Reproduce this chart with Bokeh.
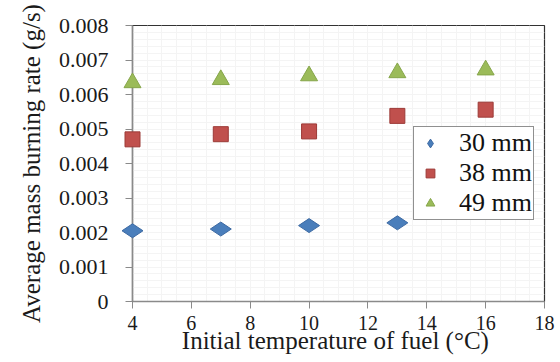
import math
from bokeh.plotting import figure
from bokeh.models import FixedTicker, NumeralTickFormatter, Range1d, Legend, LegendItem
from bokeh.embed import file_html
from bokeh.resources import INLINE

temps_30 = [4, 7, 10, 13]
rate_30 = [0.00205, 0.00210, 0.00220, 0.00228]
temps_38 = [4, 7, 10, 13, 16]
rate_38 = [0.00470, 0.00485, 0.00493, 0.00538, 0.00556]
temps_49 = [4, 7, 10, 13, 16]
rate_49 = [0.00634, 0.00643, 0.00654, 0.00663, 0.00671]
x_ticks = [4, 6, 8, 10, 12, 14, 16, 18]
y_ticks = [0, 0.001, 0.002, 0.003, 0.004, 0.005, 0.006, 0.007, 0.008]

SERIF = "'Liberation Serif', serif"

p = figure(width=560, height=362, output_backend="svg", toolbar_location=None,
           x_range=Range1d(4, 18), y_range=Range1d(0, 0.008),
           min_border_left=132, min_border_right=16, min_border_top=25, min_border_bottom=61)
p.background_fill_color = "white"
p.border_fill_color = "white"
p.outline_line_color = "#333333"
p.outline_line_width = 1.2

for ax in (p.xaxis[0], p.yaxis[0]):
    ax.axis_line_color = "#8a8a8a"
    ax.axis_line_width = 1.5
    ax.major_tick_line_color = "#8a8a8a"
    ax.major_tick_in = 0
    ax.major_tick_out = 7
    ax.minor_tick_line_color = None
    ax.major_label_text_font = SERIF
    ax.major_label_text_color = "#1a1a1a"
    ax.axis_label_text_font = SERIF
    ax.axis_label_text_font_style = "normal"
    ax.axis_label_text_color = "#1a1a1a"

p.xaxis.major_label_text_font_size = "20px"
p.yaxis.major_label_text_font_size = "22px"
p.xaxis.axis_label_text_font_size = "25px"
p.yaxis.axis_label_text_font_size = "25px"

p.xaxis.ticker = FixedTicker(ticks=x_ticks)
p.yaxis.ticker = FixedTicker(ticks=y_ticks)
p.yaxis.formatter = NumeralTickFormatter(format="0.000")
p.yaxis.major_label_overrides = {0: "0"}
p.xaxis.axis_label = "Initial  temperature of fuel (\u00b0C)"
p.yaxis.axis_label = "Average mass burning rate (g/s)"
p.xaxis.major_label_standoff = 7
p.xaxis.axis_label_standoff = -6
p.yaxis.major_label_standoff = 17
p.yaxis.axis_label_standoff = 11

p.xgrid.grid_line_color = "#f4f4f4"
p.ygrid.grid_line_color = "#f4f4f4"
p.xgrid.ticker = FixedTicker(ticks=[4 + 0.5 * i for i in range(29)])
p.ygrid.ticker = FixedTicker(ticks=[0.0002 * i for i in range(41)])

r30 = p.scatter(temps_30, rate_30, marker="diamond", size=21, angle=math.pi / 2,
                fill_color="#4a7ebb", line_color="#3d6aa3", line_width=1)
r38 = p.scatter(temps_38, rate_38, marker="square", size=15, fill_color="#c0504d",
                line_color="#9c3a37", line_width=1)
r49 = p.scatter(temps_49, rate_49, marker="triangle", size=17, fill_color="#9bbb59",
                line_color="#86a64a", line_width=1)
for r in (r30, r38, r49):
    r.level = "overlay"

legend = Legend(items=[LegendItem(label="30 mm", renderers=[r30]),
                       LegendItem(label="38 mm", renderers=[r38]),
                       LegendItem(label="49 mm", renderers=[r49])],
                location=(281, 81))
legend.label_text_font = SERIF
legend.label_text_font_size = "26px"
legend.label_text_color = "#111111"
legend.border_line_color = "#222222"
legend.border_line_width = 1.2
legend.background_fill_alpha = 1
legend.padding = 1
legend.spacing = -7
legend.margin = 0
legend.glyph_width = 30
legend.glyph_height = 22
legend.label_standoff = 14
legend.label_height = 22
p.add_layout(legend, "center")

open("out.html", "w").write(file_html(p, INLINE))
